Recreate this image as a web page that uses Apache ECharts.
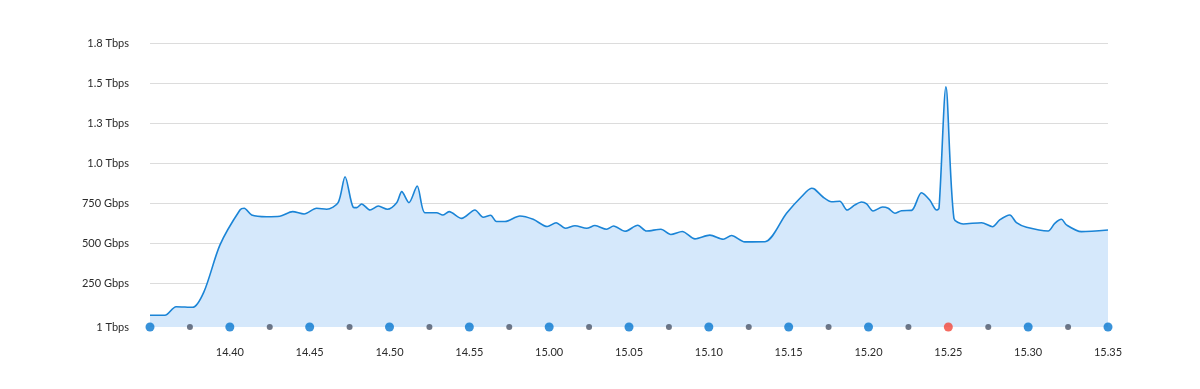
<!DOCTYPE html>
<html>
<head>
<meta charset="utf-8">
<script src="https://cdn.jsdelivr.net/npm/echarts@6/dist/echarts.min.js"></script>
<style>
  html, body { margin: 0; padding: 0; background: #ffffff; }
  #chart { width: 1200px; height: 389px; }
</style>
</head>
<body>
<div id="chart"></div>
<script>
// ---- data ----
const sampleTimes = [
  "14:35:00","14:35:56","14:36:38","14:37:40","14:38:23","14:39:23","14:40:38","14:40:54",
  "14:41:22","14:42:18","14:43:08","14:43:56","14:44:39","14:45:26","14:46:04","14:46:47",
  "14:47:13","14:47:44","14:47:57","14:48:15","14:48:47","14:49:18","14:49:52","14:50:27",
  "14:50:46","14:51:13","14:51:44","14:52:13","14:52:57","14:53:20","14:53:44","14:54:31",
  "14:55:21","14:55:52","14:56:20","14:56:42","14:57:14","14:58:10","14:59:00","14:59:53",
  "15:00:26","15:01:01","15:01:37","15:02:21","15:02:52","15:03:36","15:04:02","15:04:45",
  "15:05:33","15:06:06","15:07:00","15:07:37","15:08:20","15:09:08","15:10:04","15:10:54",
  "15:11:25","15:12:15","15:13:31","15:14:52","15:15:48","15:16:26","15:16:38","15:17:10",
  "15:17:41","15:18:12","15:18:40","15:19:09","15:19:34","15:19:53","15:20:17","15:20:53",
  "15:21:14","15:21:39","15:22:04","15:22:42","15:23:19","15:23:50","15:24:16","15:24:25",
  "15:24:51","15:25:21","15:25:56","15:27:05","15:27:46","15:28:13","15:28:51","15:29:16",
  "15:29:54","15:31:15","15:31:40","15:32:05","15:32:24","15:33:20","15:35:00"
];
const trafficGbps = [
  48, 48, 102, 98, 196, 488, 706, 717,
  675, 664, 667, 696, 681, 717, 711, 752,
  914, 723, 721, 744, 706, 731, 711, 752,
  821, 752, 856, 689, 689, 675, 696, 654,
  706, 661, 673, 634, 634, 669, 648, 603,
  627, 592, 608, 592, 609, 586, 606, 573,
  611, 575, 586, 553, 572, 526, 549, 523,
  547, 507, 508, 686, 789, 842, 836, 786,
  758, 761, 706, 738, 756, 744, 700, 725,
  717, 686, 702, 704, 814, 769, 706, 717,
  1477, 654, 619, 627, 602, 644, 675, 627,
  598, 575, 623, 648, 613, 571, 581
];
const eventTimes = [
  "14:35:00","14:37:30","14:40:00","14:42:30","14:45:00","14:47:30","14:50:00","14:52:30",
  "14:55:00","14:57:30","15:00:00","15:02:30","15:05:00","15:07:30","15:10:00","15:12:30",
  "15:15:00","15:17:30","15:20:00","15:22:30","15:25:00","15:27:30","15:30:00","15:32:30","15:35:00"
];
const eventTypes = [
  "major","minor","major","minor","major","minor","major","minor",
  "major","minor","major","minor","major","minor","major","minor",
  "major","minor","major","minor","alert","minor","major","minor","major"
];
const yTickValues = [-25, 250, 500, 750, 1000, 1250, 1500, 1750];
const yTickLabels = ["1 Tbps","250 Gbps","500 Gbps","750 Gbps","1.0 Tbps","1.3 Tbps","1.5 Tbps","1.8 Tbps"];
const xStart = "14:35:00";
const xEnd = "15:35:00";

// ---- helpers ----
function toSec(s) {
  const p = s.split(":").map(Number);
  return p[0] * 3600 + p[1] * 60 + (p[2] || 0);
}
function fmtClock(v) {
  const h = Math.floor(v / 3600);
  const m = Math.round((v - h * 3600) / 60);
  return h + "." + (m < 10 ? "0" + m : m);
}

const lineData = sampleTimes.map((t, i) => [toSec(t), trafficGbps[i]]);
const yMin = yTickValues[0];
const eventStyle = {
  major: { size: 9, color: "#0877cf" },
  minor: { size: 6, color: "#4b5569" },
  alert: { size: 9, color: "#f2463a" }
};
const eventData = eventTimes.map((t, i) => ({
  value: [toSec(t), yMin],
  symbolSize: eventStyle[eventTypes[i]].size,
  itemStyle: { color: eventStyle[eventTypes[i]].color }
}));

const chart = echarts.init(document.getElementById("chart"), null, { renderer: "canvas" });
const font = "Lato, 'Noto Sans', sans-serif";

chart.setOption({
  animation: false,
  backgroundColor: "#ffffff",
  grid: { left: 150, right: 92, top: 43, bottom: 62, containLabel: false },
  xAxis: {
    type: "value",
    min: toSec(xStart),
    max: toSec(xEnd),
    interval: 300,
    axisLine: { show: true, lineStyle: { color: "#cfcfcf", width: 1 } },
    axisTick: { show: false },
    splitLine: { show: false },
    axisLabel: {
      showMinLabel: false,
      margin: 20,
      color: "#2b2b2b",
      fontFamily: font,
      fontSize: 11,
      formatter: fmtClock
    }
  },
  yAxis: {
    type: "value",
    min: yMin,
    max: yTickValues[yTickValues.length - 1],
    axisLine: { show: false },
    axisTick: { show: false, customValues: yTickValues.slice(1) },
    splitLine: { show: true, lineStyle: { color: "#dcdcdc", width: 1 } },
    axisLabel: {
      customValues: yTickValues,
      margin: 21,
      color: "#2b2b2b",
      fontFamily: font,
      fontSize: 11,
      formatter: function (v) {
        const i = yTickValues.indexOf(v);
        return i >= 0 ? yTickLabels[i] : "";
      }
    }
  },
  series: [
    {
      type: "line",
      data: lineData,
      smooth: 0.28,
      showSymbol: false,
      symbol: "none",
      lineStyle: { color: "#1a84d6", width: 1.6 },
      areaStyle: { color: "#d5e8fb", opacity: 1, origin: "start" },
      z: 2
    },
    {
      type: "scatter",
      data: eventData,
      symbol: "circle",
      clip: false,
      z: 5
    }
  ]
});
</script>
</body>
</html>
